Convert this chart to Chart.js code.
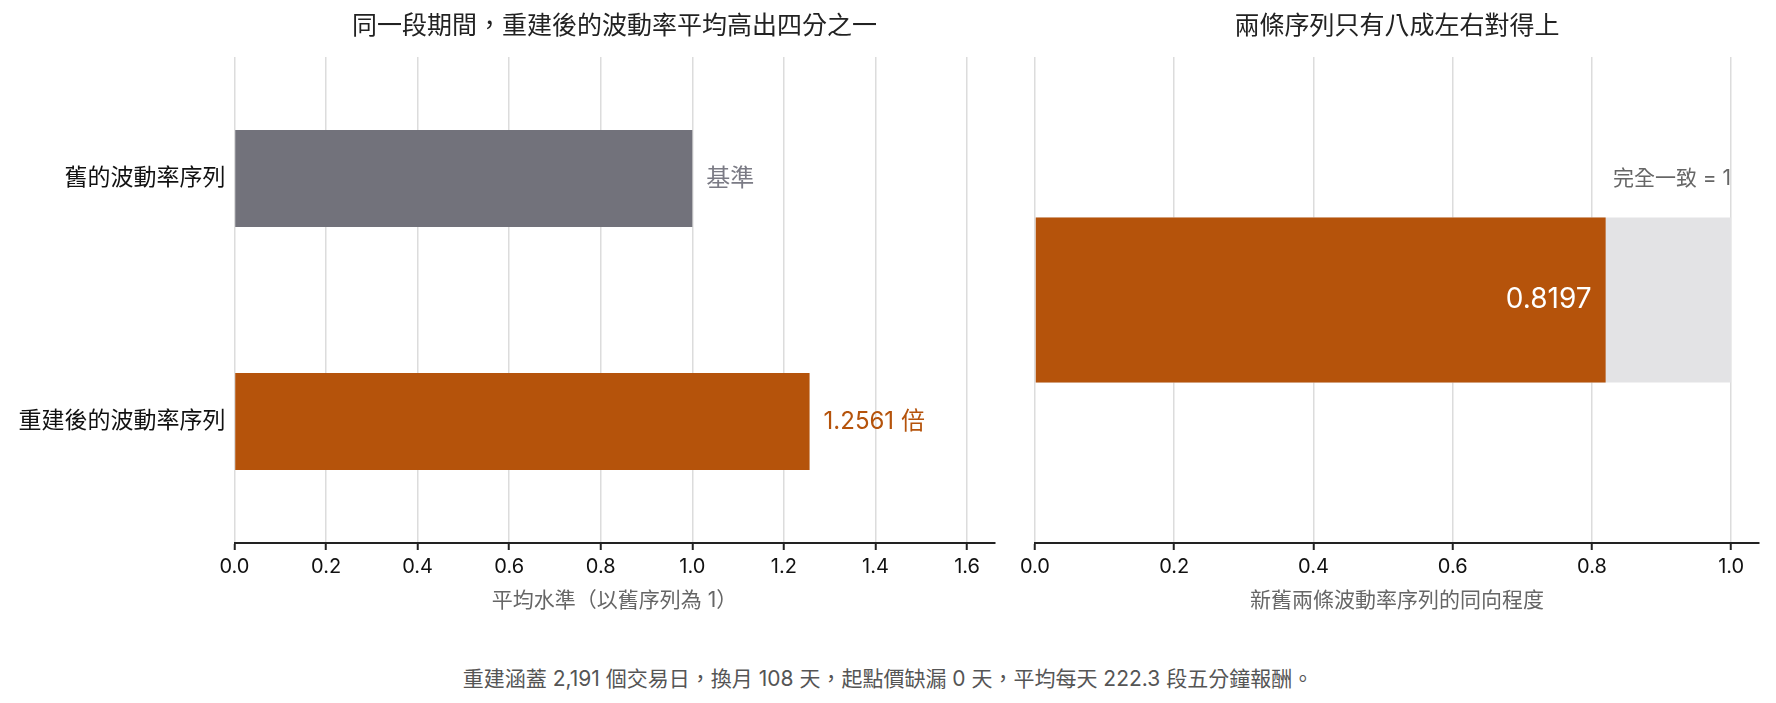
<!DOCTYPE html>
<html lang="zh-Hant">
<head>
<meta charset="utf-8">
<title>波動率序列比較</title>
<script src="https://cdn.jsdelivr.net/npm/chart.js@4.4.1/dist/chart.umd.min.js"></script>
<style>
  html, body { margin: 0; padding: 0; background: #fff; }
  body { width: 1776px; height: 703px; position: relative; overflow: hidden;
         font-family: Inter, 'Noto Sans CJK TC', sans-serif; }
  #left { position: absolute; left: 0; top: 0; }
  #right { position: absolute; left: 1000px; top: 0; }
  #note { position: absolute; left: 0; top: 666px; width: 1776px; text-align: center;
          font-size: 21px; line-height: 26px; color: #555; }
</style>
</head>
<body>
<canvas id="left" width="1000" height="640"></canvas>
<canvas id="right" width="776" height="640"></canvas>
<div id="note">重建涵蓋 2,191 個交易日，換月 108 天，起點價缺漏 0 天，平均每天 222.3 段五分鐘報酬。</div>
<script>
// 左圖：平均水準
const levelLabels = ['舊的波動率序列', '重建後的波動率序列'];
const levelValues = [1, 1.2561];
const levelNotes = ['基準', '1.2561 倍'];
const levelMax = 1.66;

// 右圖：同向程度
const agreementLabels = ['同向程度'];
const agreementValues = [0.8197];
const perfectValues = [1];
const agreementMax = 1.04;

const ORANGE = '#B5530B';
const GREY = '#72727B';
const LIGHT = '#E3E3E5';
const FONT = "Inter, 'Noto Sans CJK TC', sans-serif";

Chart.defaults.font.family = FONT;
Chart.defaults.animation = false;

// 標題置中於繪圖區上方
const panelTitle = {
    id: 'panelTitle',
    afterDraw(chart, args, opts) {
        const { ctx, chartArea } = chart;
        ctx.save();
        ctx.font = `25px ${FONT}`;
        ctx.fillStyle = '#222';
        ctx.textAlign = 'center';
        ctx.textBaseline = 'middle';
        ctx.fillText(opts.text, (chartArea.left + chartArea.right) / 2, 26);
        ctx.restore();
    }
};

const xAxis = (max, titleText) => ({
    min: 0,
    max: max,
    afterFit: (scale) => { scale.height = 97; },
    ticks: {
        stepSize: 0.2,
        includeBounds: false,
        padding: 5,
        color: '#111',
        font: { size: 20 },
        callback: (v) => Number(v).toFixed(1)
    },
    grid: {
        color: '#DCDCDC',
        lineWidth: 1.5,
        tickColor: '#222',
        tickWidth: 2,
        tickLength: 7
    },
    border: { display: true, color: '#222', width: 2 },
    title: {
        display: true,
        text: titleText,
        color: '#666',
        font: { size: 21 },
        padding: { top: 0, bottom: 27 }
    }
});

new Chart(document.getElementById('left'), {
    type: 'bar',
    data: {
        labels: levelLabels,
        datasets: [{
            data: levelValues,
            backgroundColor: [GREY, ORANGE],
            barPercentage: 0.4,
            categoryPercentage: 1
        }]
    },
    options: {
        responsive: false,
        indexAxis: 'y',
        layout: { padding: { top: 57, right: 5.5, left: 0, bottom: 0 } },
        plugins: {
            legend: { display: false },
            tooltip: { enabled: false },
            panelTitle: { text: '同一段期間，重建後的波動率平均高出四分之一' }
        },
        scales: {
            x: xAxis(levelMax, '平均水準（以舊序列為 1）'),
            y: {
                afterFit: (scale) => { scale.width = 234.5; },
                ticks: { color: '#111', font: { size: 23 }, padding: 9 },
                grid: { display: false, drawTicks: false },
                border: { display: false }
            }
        }
    },
    plugins: [panelTitle, {
        id: 'levelNotes',
        afterDatasetsDraw(chart) {
            const ctx = chart.ctx;
            const colors = ['#7B7B85', ORANGE];
            chart.getDatasetMeta(0).data.forEach((bar, i) => {
                ctx.save();
                ctx.font = `24px ${FONT}`;
                ctx.fillStyle = colors[i];
                ctx.textAlign = 'left';
                ctx.textBaseline = 'middle';
                ctx.fillText(levelNotes[i], bar.x + 14, bar.y);
                ctx.restore();
            });
        }
    }]
});

new Chart(document.getElementById('right'), {
    type: 'bar',
    data: {
        labels: agreementLabels,
        datasets: [{
            data: agreementValues,
            backgroundColor: ORANGE,
            barPercentage: 0.34,
            categoryPercentage: 1,
            grouped: false
        }, {
            data: perfectValues,
            backgroundColor: LIGHT,
            barPercentage: 0.34,
            categoryPercentage: 1,
            grouped: false
        }]
    },
    options: {
        responsive: false,
        indexAxis: 'y',
        layout: { padding: { top: 57, right: 17, left: 35, bottom: 0 } },
        plugins: {
            legend: { display: false },
            tooltip: { enabled: false },
            panelTitle: { text: '兩條序列只有八成左右對得上' }
        },
        scales: {
            x: xAxis(agreementMax, '新舊兩條波動率序列的同向程度'),
            y: { display: false }
        }
    },
    plugins: [panelTitle, {
        id: 'agreementNotes',
        afterDatasetsDraw(chart) {
            const ctx = chart.ctx;
            const bar = chart.getDatasetMeta(0).data[0];
            const full = chart.getDatasetMeta(1).data[0];
            ctx.save();
            ctx.textAlign = 'right';
            ctx.textBaseline = 'middle';
            ctx.font = `28px ${FONT}`;
            ctx.fillStyle = '#fff';
            ctx.fillText(agreementValues[0].toFixed(4), bar.x - 14, bar.y);
            ctx.font = `21px ${FONT}`;
            ctx.fillStyle = '#666';
            ctx.fillText('完全一致 = ' + perfectValues[0], full.x, full.y - full.height / 2 - 39);
            ctx.restore();
        }
    }]
});
</script>
</body>
</html>
